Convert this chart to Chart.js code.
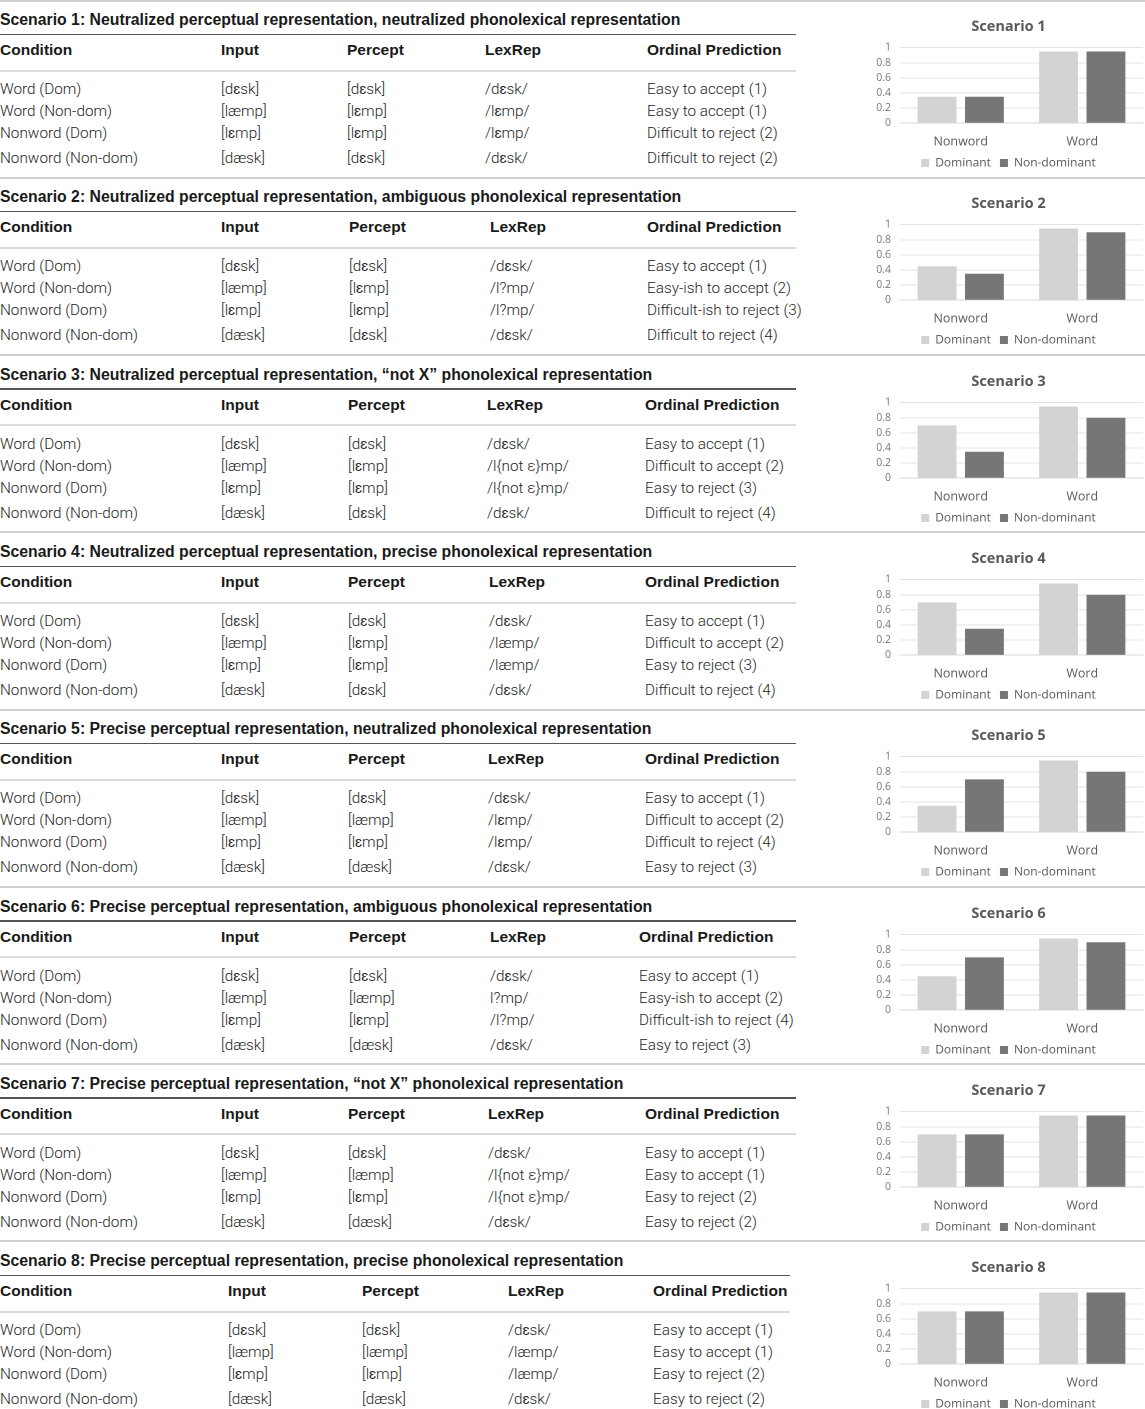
<!DOCTYPE html>
<html>
<head>
<meta charset="utf-8">
<script src="https://cdn.jsdelivr.net/npm/chart.js@4.4.1/dist/chart.umd.min.js"></script>
<style>
  html, body { margin:0; padding:0; background:#fff; }
  body { width:1145px; height:1409px; position:relative; overflow:hidden; }
  .block { position:absolute; left:0; width:1145px; height:178px; }
  .t { position:absolute; white-space:nowrap; height:20px; line-height:20px; }
  .title { font-family:"Liberation Sans", Arial, sans-serif; font-weight:bold; font-size:15.8px; color:#1a1a1a; }
  .head { font-family:"Liberation Sans", Arial, sans-serif; font-weight:bold; font-size:15.5px; color:#1a1a1a; }
  .cell { font-family:Roboto, "Liberation Sans", sans-serif; font-weight:300; font-size:15.3px; color:#262626; }
  .line { position:absolute; left:0; }
  .chartbox { position:absolute; left:862px; top:1px; width:283px; height:176px; }
</style>
</head>
<body>
<script>
// ---------- DATA ----------
const scenarioNames = ['Scenario 1','Scenario 2','Scenario 3','Scenario 4','Scenario 5','Scenario 6','Scenario 7','Scenario 8'];
const scenarioDescriptions = [
  'Neutralized perceptual representation, neutralized phonolexical representation',
  'Neutralized perceptual representation, ambiguous phonolexical representation',
  'Neutralized perceptual representation, \u201cnot X\u201d phonolexical representation',
  'Neutralized perceptual representation, precise phonolexical representation',
  'Precise perceptual representation, neutralized phonolexical representation',
  'Precise perceptual representation, ambiguous phonolexical representation',
  'Precise perceptual representation, \u201cnot X\u201d phonolexical representation',
  'Precise perceptual representation, precise phonolexical representation'
];
const columnHeaders = ['Condition','Input','Percept','LexRep','Ordinal Prediction'];
const conditions = ['Word (Dom)','Word (Non-dom)','Nonword (Dom)','Nonword (Non-dom)'];
const inputs = ['[d\u025bsk]','[l\u00e6mp]','[l\u025bmp]','[d\u00e6sk]'];
const perceptsNeutralized = ['[d\u025bsk]','[l\u025bmp]','[l\u025bmp]','[d\u025bsk]'];
const perceptsPrecise = ['[d\u025bsk]','[l\u00e6mp]','[l\u025bmp]','[d\u00e6sk]'];
const percepts = [perceptsNeutralized,perceptsNeutralized,perceptsNeutralized,perceptsNeutralized,
                  perceptsPrecise,perceptsPrecise,perceptsPrecise,perceptsPrecise];
const lexReps = [
  ['/d\u025bsk/','/l\u025bmp/','/l\u025bmp/','/d\u025bsk/'],
  ['/d\u025bsk/','/l?mp/','/l?mp/','/d\u025bsk/'],
  ['/d\u025bsk/','/l{not \u03b5}mp/','/l{not \u03b5}mp/','/d\u025bsk/'],
  ['/d\u025bsk/','/l\u00e6mp/','/l\u00e6mp/','/d\u025bsk/'],
  ['/d\u025bsk/','/l\u025bmp/','/l\u025bmp/','/d\u025bsk/'],
  ['/d\u025bsk/','l?mp/','/l?mp/','/d\u025bsk/'],
  ['/d\u025bsk/','/l{not \u03b5}mp/','/l{not \u03b5}mp/','/d\u025bsk/'],
  ['/d\u025bsk/','/l\u00e6mp/','/l\u00e6mp/','/d\u025bsk/']
];
const predictions = [
  ['Easy to accept (1)','Easy to accept (1)','Difficult to reject (2)','Difficult to reject (2)'],
  ['Easy to accept (1)','Easy-ish to accept (2)','Difficult-ish to reject (3)','Difficult to reject (4)'],
  ['Easy to accept (1)','Difficult to accept (2)','Easy to reject (3)','Difficult to reject (4)'],
  ['Easy to accept (1)','Difficult to accept (2)','Easy to reject (3)','Difficult to reject (4)'],
  ['Easy to accept (1)','Difficult to accept (2)','Difficult to reject (4)','Easy to reject (3)'],
  ['Easy to accept (1)','Easy-ish to accept (2)','Difficult-ish to reject (4)','Easy to reject (3)'],
  ['Easy to accept (1)','Easy to accept (1)','Easy to reject (2)','Easy to reject (2)'],
  ['Easy to accept (1)','Easy to accept (1)','Easy to reject (2)','Easy to reject (2)']
];
// chart data
const categories = ['Nonword','Word'];
const seriesNames = ['Dominant','Non-dominant'];
const dominantValues = [
  [0.35,0.95],[0.45,0.95],[0.70,0.95],[0.70,0.95],
  [0.35,0.95],[0.45,0.95],[0.70,0.95],[0.70,0.95]
];
const nonDominantValues = [
  [0.35,0.95],[0.35,0.90],[0.35,0.80],[0.35,0.80],
  [0.70,0.80],[0.70,0.90],[0.70,0.95],[0.70,0.95]
];
const yTickLabels = ['0','0.2','0.4','0.6','0.8','1'];

// ---------- LAYOUT (separate from data) ----------
const blockTops = [0,177.3,354.6,532,709.2,886.5,1063.8,1241];
const columnX = [
  [0,221,347,485,647],[0,221,349,490,647],[0,221,348,487,645],[0,221,348,489,645],
  [0,221,348,488,645],[0,221,349,490,639],[0,221,348,488,645],[0,228,362,508,653]
];
const ruleEnd = [796,796,796,796,796,796,796,790];
const rowY = [89,111,133,158];
const colors = ['#d3d3d3','#767676'];
const chartFont = '"Open Sans", Lato, sans-serif';

function addText(parent, cls, text, x, y){
  const d = document.createElement('div');
  d.className = 't ' + cls;
  d.textContent = text;
  d.style.left = x + 'px';
  d.style.top = (y - 10) + 'px';
  parent.appendChild(d);
}
function addLine(parent, y, w, h, color){
  const d = document.createElement('div');
  d.className = 'line';
  d.style.top = y + 'px'; d.style.width = w + 'px'; d.style.height = h + 'px'; d.style.background = color;
  parent.appendChild(d);
}

for (let i = 0; i < 8; i++){
  const b = document.createElement('div');
  b.className = 'block';
  b.style.top = blockTops[i] + 'px';
  document.body.appendChild(b);
  if (i === 0) addLine(b, 0, 1145, 2, '#d0d0d0');
  addText(b, 'title', scenarioNames[i] + ': ' + scenarioDescriptions[i], 0, 20);
  addLine(b, 33.5, ruleEnd[i], 1.5, '#555');
  columnHeaders.forEach((h, c) => addText(b, 'head', h, columnX[i][c], 50));
  addLine(b, 69.5, ruleEnd[i], 2, '#dcdcdc');
  for (let r = 0; r < 4; r++){
    const vals = [conditions[r], inputs[r], percepts[i][r], lexReps[i][r], predictions[i][r]];
    vals.forEach((v, c) => addText(b, 'cell', v, columnX[i][c], rowY[r]));
  }
  if (i < 7) addLine(b, 176.5, 1145, 2, '#d0d0d0');

  const box = document.createElement('div');
  box.className = 'chartbox';
  const cv = document.createElement('canvas');
  box.appendChild(cv);
  b.appendChild(box);

  new Chart(cv, {
    type: 'bar',
    data: {
      labels: categories,
      datasets: [
        { label: seriesNames[0], data: dominantValues[i], backgroundColor: colors[0], categoryPercentage: 0.78, barPercentage: 0.82 },
        { label: seriesNames[1], data: nonDominantValues[i], backgroundColor: colors[1], categoryPercentage: 0.78, barPercentage: 0.82 }
      ]
    },
    options: {
      responsive: true,
      maintainAspectRatio: false,
      animation: false,
      devicePixelRatio: 2,
      layout: { padding: { top: 17.3, left: 12, right: 2, bottom: -2 } },
      plugins: {
        title: { display: true, text: scenarioNames[i], color: '#595959',
                 font: { family: chartFont, size: 14.5, weight: 'bold' },
                 padding: { top: 0, bottom: 12 } },
        legend: { position: 'bottom',
                  labels: { boxWidth: 8, boxHeight: 8, padding: 9, color: '#595959',
                            font: { family: chartFont, size: 12 } } },
        tooltip: { enabled: false }
      },
      scales: {
        x: { grid: { display: false, drawTicks: false },
             border: { display: true, color: '#d9d9d9' },
             ticks: { color: '#595959', padding: 11, font: { family: chartFont, size: 12.5 } },
             afterFit: (s) => { s.height = 24.8; } },
        y: { min: 0, max: 1,
             grid: { color: '#e3e3e3', drawTicks: false },
             border: { display: false },
             ticks: { stepSize: 0.2, padding: 9, color: '#777', autoSkip: false,
                      font: { family: chartFont, size: 10.5 },
                      callback: (v, idx) => yTickLabels[idx] },
             afterFit: (s) => { s.width = 26; } }
      }
    }
  });
}
</script>
</body>
</html>
